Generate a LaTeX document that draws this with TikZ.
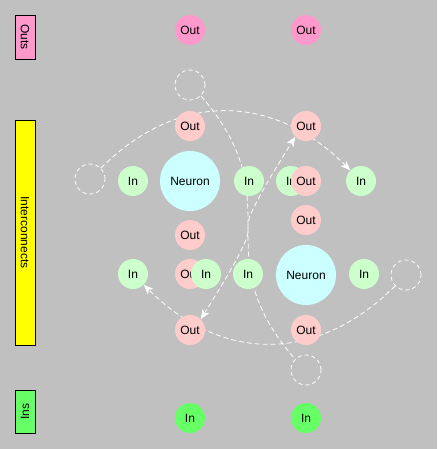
\documentclass[tikz,border=0pt]{standalone}
\usepackage{fontspec}
\setmainfont{Liberation Sans}
\usetikzlibrary{arrows.meta}
\pgfdeclarelayer{bg}
\pgfdeclarelayer{edges}
\pgfsetlayers{bg,edges,main}
\definecolor{bgc}{HTML}{C0C0C0}
\definecolor{hotpink}{HTML}{FF99CC}
\definecolor{ltpink}{HTML}{FFCCCC}
\definecolor{ltgreen}{HTML}{CCFFCC}
\definecolor{brgreen}{HTML}{66FF66}
\definecolor{neuronc}{HTML}{CCFFFF}
\definecolor{barylw}{HTML}{FFFF00}
\begin{document}
\begin{tikzpicture}[x=1pt,y=1pt,
  every node/.style={font=\fontsize{12}{14}\selectfont},
  ball/.style={circle,minimum size=30pt,inner sep=0pt},
  outhot/.style={ball,fill=hotpink},
  outlt/.style={ball,fill=ltpink},
  inlt/.style={ball,fill=ltgreen},
  inhot/.style={ball,fill=brgreen},
  neuron/.style={circle,minimum size=60pt,inner sep=0pt,fill=neuronc},
  ghost/.style={circle,minimum size=30pt,inner sep=0pt,draw=white,line width=0.8pt,dash pattern=on 4pt off 3pt},
  bar/.style={draw=black,line width=0.8pt,minimum height=20pt,inner sep=0pt},
  wire/.style={draw=white,line width=0.8pt,dash pattern=on 5pt off 3pt},
  arrowed/.style={-{Stealth[length=10pt,width=8pt,inset=3pt]}},
  arrowedboth/.style={{Stealth[length=10pt,width=8pt,inset=3pt]}-{Stealth[length=10pt,width=8pt,inset=3pt]}}
]
\useasboundingbox (0,0) rectangle (437,-449);
\begin{pgfonlayer}{bg}
\fill[bgc] (0,0) rectangle (437,-449);
\end{pgfonlayer}

% side bars
\node[bar,fill=hotpink,rotate=-90,minimum width=44pt] (barouts) at (25,-37) {Outs};
\node[bar,fill=barylw,rotate=-90,minimum width=225pt] (barinter) at (25,-232.5) {Interconnects};
\node[bar,fill=brgreen,rotate=90,minimum width=43pt] (barins) at (25,-411.5) {Ins};

% top outputs
\node[outhot] (o1) at (190,-30) {Out};
\node[outhot] (o2) at (306,-30) {Out};

% ghosts
\node[ghost] (ga) at (190,-85) {};
\node[ghost] (gl) at (90,-179) {};
\node[ghost] (gr) at (406,-275) {};
\node[ghost] (gb) at (306,-370) {};

% upper group
\node[outlt] (oa) at (190,-126) {Out};
\node[outlt] (ob) at (306,-126) {Out};
\node[inlt] (i1) at (133,-181) {In};
\node[neuron] (n1) at (190,-181) {Neuron};
\node[inlt] (i2) at (249,-181) {In};
\node[inlt] (i3) at (291,-181) {In};
\node[outlt] (oc) at (306,-181) {Out};
\node[inlt] (i4) at (361,-181) {In};
\node[outlt] (od) at (190,-235) {Out};
\node[outlt] (oe) at (306,-220) {Out};

% lower group
\node[inlt] (i5) at (133,-274) {In};
\node[outlt] (of) at (190,-274) {Out};
\node[inlt] (i6) at (206,-274) {In};
\node[inlt] (i7) at (248,-274) {In};
\node[neuron] (n2) at (306,-275) {Neuron};
\node[inlt] (i8) at (364,-274) {In};
\node[outlt] (og) at (190,-330) {Out};
\node[outlt] (oh) at (306,-330) {Out};

% bottom inputs
\node[inhot] (i9) at (190,-418) {In};
\node[inhot] (i10) at (306,-418) {In};

\begin{pgfonlayer}{edges}
\draw[wire,arrowed] (gl) to[out=45,in=135,looseness=1.12] (i4);
\draw[wire,arrowed] (gr) to[out=-135,in=-45,looseness=1.12] (i5);
\draw[wire] (ga.-45) .. controls +(94,-108) and +(-94,108) .. (gb.135);
\draw[wire,arrowedboth] (og.45) .. controls +(93,149) and +(-93,-149) .. (ob.225);
\end{pgfonlayer}
\end{tikzpicture}
\end{document}
